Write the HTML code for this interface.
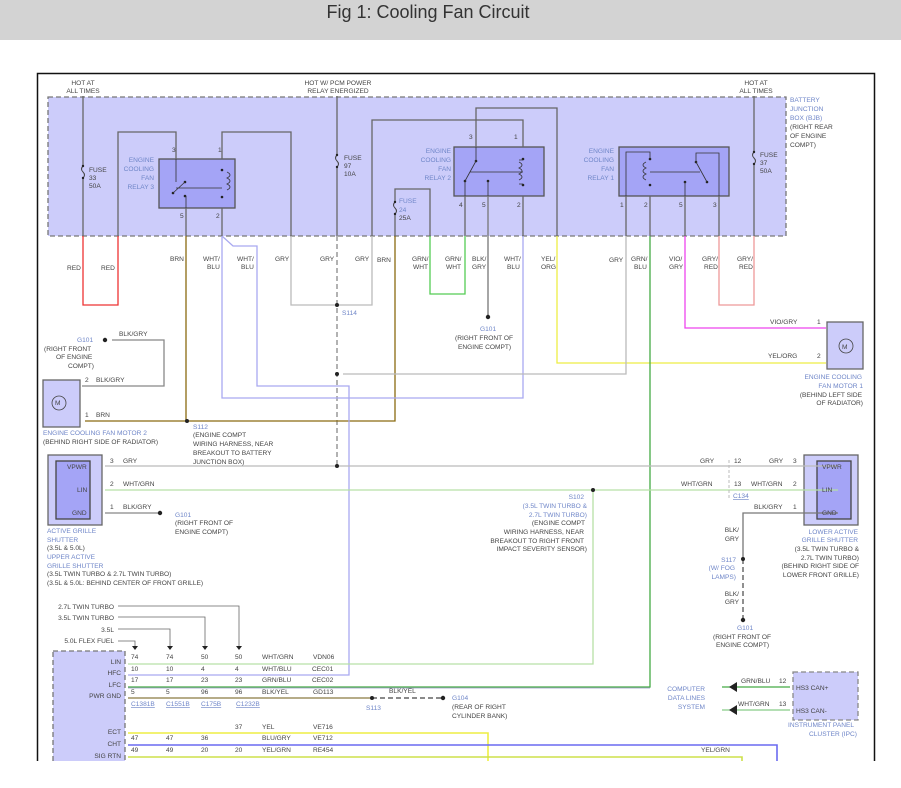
<!DOCTYPE html>
<html><head><meta charset="utf-8"><style>
html,body{margin:0;padding:0;background:#fff;width:901px;height:788px;overflow:hidden}
svg{display:block}
text{font-family:"Liberation Sans",sans-serif;font-size:6.6px;fill:#444}
.b{fill:#6f86c8}
.t{font-size:18px;fill:#333}
.u{fill:#6f86c8;text-decoration:underline}
</style></head><body>
<svg width="901" height="788" viewBox="0 0 901 788" xmlns="http://www.w3.org/2000/svg">
<rect x="0" y="0" width="901" height="40" fill="#d3d3d3"/>
<text class="t" x="428" y="18" text-anchor="middle">Fig 1: Cooling Fan Circuit</text>
<clipPath id="c"><rect x="0" y="70" width="901" height="691"/></clipPath>
<g clip-path="url(#c)" fill="none" stroke-width="1.3">
<path d="M37.5 761 V73.5 H874.5 V761" stroke="#111" stroke-width="1.5"/>
<rect x="48" y="97" width="738" height="139" fill="#ccccfa" stroke="#777" stroke-dasharray="5,3"/>
<rect x="159" y="159" width="76" height="49" fill="#a4a4f6" stroke="#555"/>
<rect x="454" y="147" width="90" height="49" fill="#a4a4f6" stroke="#555"/>
<rect x="619" y="147" width="110" height="49" fill="#a4a4f6" stroke="#555"/>

<path d="M83 96 V166 M83 178 V236" stroke="#666"/>
<path d="M83 166 q-3 3 0 6 q3 3 0 6" stroke="#444" stroke-width="1"/>
<path d="M83 236 V305 H118 V236" stroke="#e33"/>
<path d="M118 236 V132 H176 V159" stroke="#666"/>
<path d="M222 159 V132 H291 V236" stroke="#666"/>
<path d="M291 236 V305 H337" stroke="#bbb"/>
<path d="M337 96 V155 M337 167 V236" stroke="#666"/>
<path d="M337 155 q-3 3 0 6 q3 3 0 6" stroke="#444" stroke-width="1"/>
<path d="M337 236 V466" stroke="#888" stroke-dasharray="5,3"/>
<path d="M337 305 H372 V236" stroke="#bbb"/>
<path d="M372 236 V120 H523 V147" stroke="#666"/>
<path d="M395 236 V214 M395 202 V189 H430 V236" stroke="#666"/>
<path d="M395 202 q-3 3 0 6 q3 3 0 6" stroke="#444" stroke-width="1"/>
<path d="M430 236 V294 H465 V236" stroke="#5c5"/>
<path d="M465 236 V196" stroke="#666"/>
<path d="M395 236 V421 H85" stroke="#8a6a10"/>
<path d="M186 208 V236" stroke="#666"/>
<path d="M186 236 V421" stroke="#8a6a10"/>
<path d="M222 208 V236" stroke="#666"/>
<path d="M222 236 V398 H523 V236" stroke="#a9a9f0"/>
<path d="M222 236 L233 246 H257 V386 H349 V675 H128" stroke="#a9a9f0"/>
<path d="M523 236 V196" stroke="#666"/>
<path d="M476 147 V108 H557 V236" stroke="#666"/>
<path d="M557 236 V363 H826" stroke="#ee4"/>
<path d="M488 196 V317" stroke="#777"/>
<path d="M626 196 V236" stroke="#666"/>
<path d="M626 236 V374 H343" stroke="#bbb"/>
<path d="M650 196 V236" stroke="#666"/>
<path d="M650 236 V687 H128" stroke="#4a4"/>
<path d="M128 688 H650" stroke="#66a" stroke-width="0.6"/>
<path d="M685 196 V236" stroke="#666"/>
<path d="M685 236 V328 H826" stroke="#e4e"/>
<path d="M719 196 V236" stroke="#666"/>
<path d="M719 236 V305 H754 V236" stroke="#e99"/>
<path d="M754 96 V152 M754 164 V236" stroke="#666"/>
<path d="M754 152 q-3 3 0 6 q3 3 0 6" stroke="#444" stroke-width="1"/>
<path d="M112 340 H164 V386 H82" stroke="#888"/>
<rect x="43" y="380" width="37" height="47" fill="#ccccfa" stroke="#666"/>
<circle cx="59" cy="403" r="7" stroke="#444" stroke-width="0.8"/>
<rect x="827" y="322" width="36" height="47" fill="#ccccfa" stroke="#666"/>
<circle cx="846" cy="346" r="7" stroke="#444" stroke-width="0.8"/>
<rect x="48" y="455" width="54" height="70" fill="#ccccfa" stroke="#666"/>
<rect x="56" y="461" width="34" height="58" fill="#a4a4f6" stroke="#444"/>
<rect x="804" y="455" width="54" height="70" fill="#ccccfa" stroke="#666"/>
<rect x="817" y="461" width="34" height="58" fill="#a4a4f6" stroke="#444"/>
<path d="M105 466 H838" stroke="#bbb"/>
<path d="M105 490 H838" stroke="#b6e0a6"/>
<path d="M105 513 H160" stroke="#888"/>
<path d="M838 513 H743 V559" stroke="#777"/>
<path d="M743 559 V618" stroke="#555" stroke-dasharray="5,3"/>
<path d="M593 490 V664 H128" stroke="#b6e0a6"/>
<rect x="53" y="651" width="72" height="115" fill="#ccccfa" stroke="#777" stroke-dasharray="5,3"/>
<path d="M128 698 H372" stroke="#8a7a40"/>
<path d="M372 698 H442" stroke="#444" stroke-dasharray="5,3"/>
<path d="M128 733 H488 V770" stroke="#ee4" stroke-width="1.6"/>
<path d="M128 745 H777 V770" stroke="#6a6af0" stroke-width="1.6"/>
<path d="M128 757 H742 V770" stroke="#cde04a" stroke-width="1.6"/>
<path d="M118 606 H239 V647 M118 617 H205 V647 M118 629 H170 V647 M118 641 H135 V647" stroke="#666" stroke-width="0.8"/>
<rect x="793" y="672" width="65" height="48" fill="#ccccfa" stroke="#888" stroke-dasharray="5,3"/>
<path d="M722 687 H790" stroke="#4a4"/>
<path d="M722 710 H790" stroke="#8c8"/>
</g>
<g fill="#222">
<circle cx="337" cy="305" r="2"/><circle cx="337" cy="374" r="2"/><circle cx="337" cy="466" r="2"/>
<circle cx="187" cy="421" r="2"/><circle cx="593" cy="490" r="2"/><circle cx="743" cy="559" r="2"/>
<circle cx="372" cy="698" r="2"/><circle cx="443" cy="698" r="2.2"/><circle cx="488" cy="317" r="2.2"/>
<circle cx="105" cy="340" r="2.2"/><circle cx="160" cy="513" r="2.2"/><circle cx="743" cy="620" r="2.2"/>
<circle cx="83" cy="166" r="1.2"/><circle cx="83" cy="178" r="1.2"/><circle cx="337" cy="155" r="1.2"/><circle cx="337" cy="167" r="1.2"/>
<circle cx="395" cy="202" r="1.2"/><circle cx="395" cy="214" r="1.2"/><circle cx="754" cy="152" r="1.2"/><circle cx="754" cy="164" r="1.2"/>
<path d="M132 646 l3 4 l3 -4z M167 646 l3 4 l3 -4z M202 646 l3 4 l3 -4z M236 646 l3 4 l3 -4z"/>
<path d="M729 687 l8 -5 v10z M729 710 l8 -5 v10z"/>
<circle cx="185" cy="182" r="1.3"/><circle cx="173" cy="193" r="1.3"/><circle cx="185" cy="196" r="1.3"/>
<circle cx="222" cy="170" r="1.3"/><circle cx="222" cy="197" r="1.3"/>
<circle cx="476" cy="161" r="1.3"/><circle cx="465" cy="181" r="1.3"/><circle cx="488" cy="181" r="1.3"/>
<circle cx="523" cy="159" r="1.3"/><circle cx="523" cy="185" r="1.3"/>
<circle cx="650" cy="159" r="1.3"/><circle cx="650" cy="185" r="1.3"/><circle cx="685" cy="182" r="1.3"/>
<circle cx="696" cy="162" r="1.3"/><circle cx="707" cy="182" r="1.3"/>
</g>
<g fill="none" stroke="#333" stroke-width="0.8">
<path d="M185 182 L173 193 M176 188 H222 M186 196 V208 M176 159 V182"/>
<path d="M476 161 L465 181 M470 172 H523 M465 181 V196 M488 181 V196 M476 147 V161"/>
<path d="M519 162 q6 3 0 6 q6 3 0 6 q6 3 0 6 M519 160 h4 M519 184 h4"/>
<path d="M227 172 q6 3 0 6 q6 3 0 6 q6 3 0 6"/>
<path d="M646 162 q-6 3 0 6 q-6 3 0 6 q-6 3 0 6 M650 172 H700 M696 162 L707 182 M696 162 V153 H719 V196 M626 196 V152 H650 V159 M685 182 V196"/>
</g>
<text x="83" y="85" text-anchor="middle">HOT AT</text><text x="83" y="93" text-anchor="middle">ALL TIMES</text>
<text x="338" y="85" text-anchor="middle">HOT W/ PCM POWER</text><text x="338" y="93" text-anchor="middle">RELAY ENERGIZED</text>
<text x="756" y="85" text-anchor="middle">HOT AT</text><text x="756" y="93" text-anchor="middle">ALL TIMES</text>
<text class="b" x="790" y="102">BATTERY</text><text class="b" x="790" y="111">JUNCTION</text><text class="b" x="790" y="120">BOX (BJB)</text>
<text x="790" y="129">(RIGHT REAR</text><text x="790" y="138">OF ENGINE</text><text x="790" y="147">COMPT)</text>
<text x="89" y="172">FUSE</text><text x="89" y="180">33</text><text x="89" y="188">50A</text>
<text x="344" y="160">FUSE</text><text x="344" y="168">97</text><text x="344" y="176">10A</text>
<text class="b" x="399" y="203">FUSE</text><text class="b" x="399" y="212">24</text><text x="399" y="220">25A</text>
<text x="760" y="157">FUSE</text><text x="760" y="165">37</text><text x="760" y="173">50A</text>
<g text-anchor="end">
<text class="b" x="154" y="162">ENGINE</text><text class="b" x="154" y="171">COOLING</text><text class="b" x="154" y="180">FAN</text><text class="b" x="154" y="189">RELAY 3</text>
<text class="b" x="451" y="153">ENGINE</text><text class="b" x="451" y="162">COOLING</text><text class="b" x="451" y="171">FAN</text><text class="b" x="451" y="180">RELAY 2</text>
<text class="b" x="614" y="153">ENGINE</text><text class="b" x="614" y="162">COOLING</text><text class="b" x="614" y="171">FAN</text><text class="b" x="614" y="180">RELAY 1</text>
</g>
<text x="172" y="152">3</text><text x="218" y="152">1</text><text x="180" y="218">5</text><text x="216" y="218">2</text>
<text x="469" y="139">3</text><text x="514" y="139">1</text><text x="459" y="207">4</text><text x="482" y="207">5</text><text x="517" y="207">2</text>
<text x="620" y="207">1</text><text x="644" y="207">2</text><text x="679" y="207">5</text><text x="713" y="207">3</text>
<text x="67" y="270">RED</text><text x="101" y="270">RED</text><text x="170" y="261">BRN</text>
<text x="203" y="261">WHT/</text><text x="207" y="269">BLU</text><text x="237" y="261">WHT/</text><text x="241" y="269">BLU</text>
<text x="275" y="261">GRY</text><text x="320" y="261">GRY</text><text x="355" y="261">GRY</text><text x="377" y="262">BRN</text>
<text x="412" y="261">GRN/</text><text x="413" y="269">WHT</text><text x="445" y="261">GRN/</text><text x="446" y="269">WHT</text>
<text x="472" y="261">BLK/</text><text x="472" y="269">GRY</text><text x="504" y="261">WHT/</text><text x="507" y="269">BLU</text>
<text x="541" y="261">YEL/</text><text x="541" y="269">ORG</text><text x="609" y="262">GRY</text>
<text x="631" y="261">GRN/</text><text x="634" y="269">BLU</text><text x="669" y="261">VIO/</text><text x="669" y="269">GRY</text>
<text x="702" y="261">GRY/</text><text x="704" y="269">RED</text><text x="737" y="261">GRY/</text><text x="739" y="269">RED</text>
<text class="b" x="342" y="315">S114</text>
<text class="b" x="480" y="331">G101</text><text x="455" y="340">(RIGHT FRONT OF</text><text x="458" y="349">ENGINE COMPT)</text>
<text class="b" x="77" y="342">G101</text><text x="44" y="351">(RIGHT FRONT</text><text x="56" y="359">OF ENGINE</text><text x="68" y="368">COMPT)</text>
<text x="119" y="336">BLK/GRY</text><text x="85" y="382">2</text><text x="96" y="382">BLK/GRY</text><text x="85" y="417">1</text><text x="96" y="417">BRN</text>
<text class="b" x="43" y="435">ENGINE COOLING FAN MOTOR 2</text><text x="43" y="444">(BEHIND RIGHT SIDE OF RADIATOR)</text>
<text class="b" x="193" y="429">S112</text><text x="193" y="437">(ENGINE COMPT</text><text x="193" y="446">WIRING HARNESS, NEAR</text><text x="193" y="455">BREAKOUT TO BATTERY</text><text x="193" y="464">JUNCTION BOX)</text>
<text x="770" y="324">VIO/GRY</text><text x="817" y="324">1</text><text x="768" y="358">YEL/ORG</text><text x="817" y="358">2</text>
<text x="55" y="405" font-size="7" fill="#333">M</text><text x="842" y="349" font-size="7" fill="#333">M</text>
<g text-anchor="end"><text class="b" x="862" y="379">ENGINE COOLING</text><text class="b" x="863" y="388">FAN MOTOR 1</text><text x="862" y="397">(BEHIND LEFT SIDE</text><text x="863" y="405">OF RADIATOR)</text></g>
<text x="67" y="469">VPWR</text><text x="77" y="492">LIN</text><text x="72" y="515">GND</text>
<text x="822" y="469">VPWR</text><text x="822" y="492">LIN</text><text x="822" y="515">GND</text>
<text x="110" y="463">3</text><text x="123" y="463">GRY</text><text x="110" y="486">2</text><text x="123" y="486">WHT/GRN</text>
<text x="110" y="509">1</text><text x="123" y="509">BLK/GRY</text>
<text class="b" x="175" y="517">G101</text><text x="175" y="525">(RIGHT FRONT OF</text><text x="175" y="534">ENGINE COMPT)</text>
<text class="b" x="47" y="533">ACTIVE GRILLE</text><text class="b" x="47" y="542">SHUTTER</text><text x="47" y="550">(3.5L &amp; 5.0L)</text>
<text class="b" x="47" y="559">UPPER ACTIVE</text><text class="b" x="47" y="568">GRILLE SHUTTER</text><text x="47" y="576">(3.5L TWIN TURBO &amp; 2.7L TWIN TURBO)</text><text x="47" y="585">(3.5L &amp; 5.0L: BEHIND CENTER OF FRONT GRILLE)</text>
<text x="700" y="463">GRY</text><text x="734" y="463">12</text><text x="769" y="463">GRY</text><text x="793" y="463">3</text>
<text x="681" y="486">WHT/GRN</text><text x="734" y="486">13</text><text x="751" y="486">WHT/GRN</text><text x="793" y="486">2</text>
<text class="u" x="733" y="498">C134</text><text x="754" y="509">BLK/GRY</text><text x="793" y="509">1</text>
<path d="M729 460 v40" stroke="#bbb" stroke-width="1" stroke-dasharray="3,2"/>
<g text-anchor="end">
<text class="b" x="584" y="499">S102</text><text class="b" x="587" y="508">(3.5L TWIN TURBO &amp;</text><text class="b" x="587" y="517">2.7L TWIN TURBO)</text>
<text x="585" y="525">(ENGINE COMPT</text><text x="584" y="534">WIRING HARNESS, NEAR</text><text x="584" y="543">BREAKOUT TO RIGHT FRONT</text><text x="587" y="551">IMPACT SEVERITY SENSOR)</text>
<text class="b" x="858" y="534">LOWER ACTIVE</text><text class="b" x="858" y="542">GRILLE SHUTTER</text><text x="859" y="551">(3.5L TWIN TURBO &amp;</text><text x="859" y="560">2.7L TWIN TURBO)</text><text x="859" y="568">(BEHIND RIGHT SIDE OF</text><text x="859" y="577">LOWER FRONT GRILLE)</text>
<text x="739" y="532">BLK/</text><text x="739" y="541">GRY</text>
<text class="b" x="736" y="562">S117</text><text class="b" x="735" y="570">(W/ FOG</text><text class="b" x="736" y="579">LAMPS)</text>
<text x="739" y="596">BLK/</text><text x="739" y="604">GRY</text>
<text x="114" y="609">2.7L TWIN TURBO</text><text x="114" y="620">3.5L TWIN TURBO</text><text x="114" y="632">3.5L</text><text x="114" y="643">5.0L FLEX FUEL</text>
<text x="121" y="664">LIN</text><text x="121" y="675">HFC</text><text x="121" y="687">LFC</text><text x="121" y="698">PWR GND</text>
<text x="121" y="734">ECT</text><text x="121" y="746">CHT</text><text x="121" y="758">SIG RTN</text>
<text class="b" x="705" y="691">COMPUTER</text><text class="b" x="705" y="700">DATA LINES</text><text class="b" x="705" y="709">SYSTEM</text>
</g>
<text class="b" x="737" y="630">G101</text><text x="713" y="639">(RIGHT FRONT OF</text><text x="716" y="647">ENGINE COMPT)</text>
<text x="131" y="659">74</text><text x="166" y="659">74</text><text x="201" y="659">50</text><text x="235" y="659">50</text><text x="262" y="659">WHT/GRN</text><text x="313" y="659">VDN06</text>
<text x="131" y="671">10</text><text x="166" y="671">10</text><text x="201" y="671">4</text><text x="235" y="671">4</text><text x="262" y="671">WHT/BLU</text><text x="312" y="671">CEC01</text>
<text x="131" y="682">17</text><text x="166" y="682">17</text><text x="201" y="682">23</text><text x="235" y="682">23</text><text x="262" y="682">GRN/BLU</text><text x="312" y="682">CEC02</text>
<text x="131" y="694">5</text><text x="166" y="694">5</text><text x="201" y="694">96</text><text x="235" y="694">96</text><text x="262" y="694">BLK/YEL</text><text x="313" y="694">GD113</text>
<text class="u" x="131" y="706">C1381B</text><text class="u" x="166" y="706">C1551B</text><text class="u" x="201" y="706">C175B</text><text class="u" x="236" y="706">C1232B</text>
<text x="389" y="693">BLK/YEL</text><text class="b" x="366" y="710">S113</text>
<text class="b" x="452" y="700">G104</text><text x="452" y="709">(REAR OF RIGHT</text><text x="452" y="718">CYLINDER BANK)</text>
<text x="235" y="729">37</text><text x="262" y="729">YEL</text><text x="313" y="729">VE716</text>
<text x="131" y="740">47</text><text x="166" y="740">47</text><text x="201" y="740">36</text><text x="262" y="740">BLU/GRY</text><text x="313" y="740">VE712</text>
<text x="131" y="752">49</text><text x="166" y="752">49</text><text x="201" y="752">20</text><text x="235" y="752">20</text><text x="262" y="752">YEL/GRN</text><text x="313" y="752">RE454</text>
<text x="701" y="752">YEL/GRN</text>
<text x="741" y="683">GRN/BLU</text><text x="779" y="683">12</text><text x="738" y="706">WHT/GRN</text><text x="779" y="706">13</text>
<text x="796" y="690">HS3 CAN+</text><text x="796" y="713">HS3 CAN-</text>
<text class="b" x="788" y="727">INSTRUMENT PANEL</text><text class="b" x="809" y="736">CLUSTER (IPC)</text>
</svg>
</body></html>
